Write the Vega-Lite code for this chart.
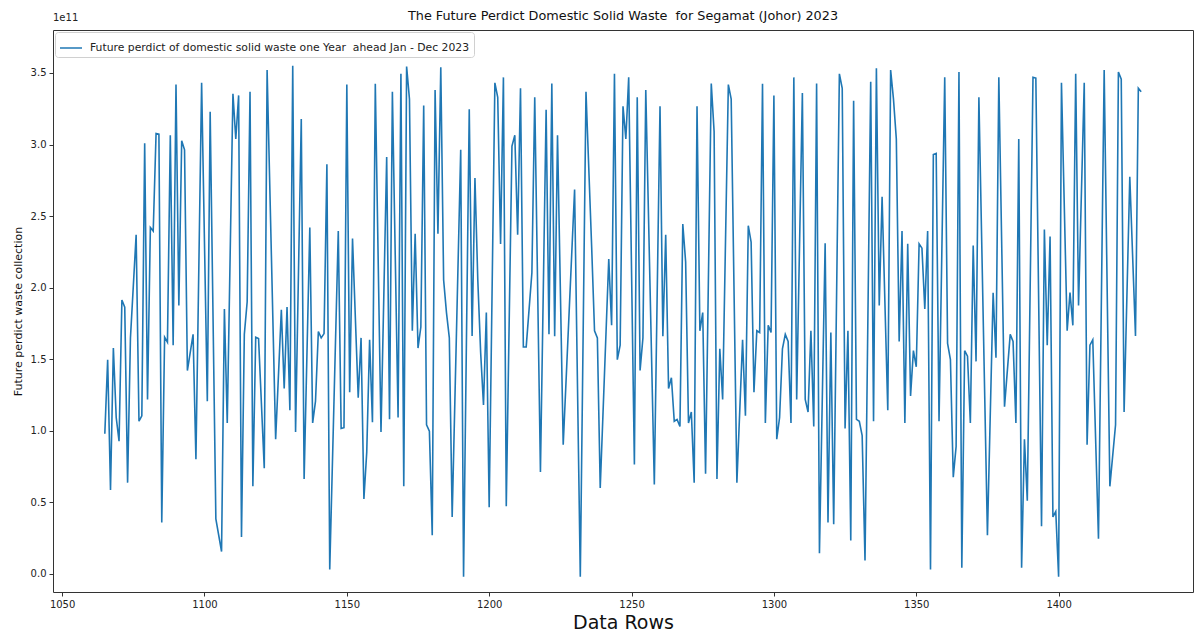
{
"$schema": "https://vega.github.io/schema/vega-lite/v6.json",
"width": 1140, "height": 562,
"autosize": {"type": "none"},
"padding": {"left": 53, "top": 30, "right": 2, "bottom": 40},
"background": "white",
"title": {"text": "The Future Perdict Domestic Solid Waste \u00a0for Segamat (Johor) 2023", "fontSize": 12.8, "font": "DejaVu Sans", "fontWeight": "normal", "color": "#111", "offset": -10, "anchor": "middle"},
"config": {"view": {"stroke": "#333", "strokeWidth": 1}, "font": "DejaVu Sans",
 "axis": {"grid": false, "domain": false, "tickColor": "#333", "tickSize": 4, "labelFontSize": 10, "labelColor": "#222", "labelFont": "DejaVu Sans", "titleFont": "DejaVu Sans", "titleFontWeight": "normal", "titleColor": "#111"}},
"data": {"values": [
{"row":1065,"waste":0.98e11},{"row":1066,"waste":1.497e11},{"row":1067,"waste":0.587e11},{"row":1068,"waste":1.578e11},{"row":1069,"waste":1.093e11},{"row":1070,"waste":0.928e11},{"row":1071,"waste":1.914e11},{"row":1072,"waste":1.864e11},{"row":1073,"waste":0.638e11},{"row":1074,"waste":1.649e11},{"row":1076,"waste":2.369e11},{"row":1077,"waste":1.067e11},{"row":1078,"waste":1.105e11},{"row":1079,"waste":3.009e11},{"row":1080,"waste":1.219e11},{"row":1081,"waste":2.42e11},{"row":1082,"waste":2.395e11},{"row":1083,"waste":3.077e11},{"row":1084,"waste":3.072e11},{"row":1085,"waste":0.36e11},{"row":1086,"waste":1.654e11},{"row":1087,"waste":1.619e11},{"row":1088,"waste":3.065e11},{"row":1089,"waste":1.598e11},{"row":1090,"waste":3.419e11},{"row":1091,"waste":1.876e11},{"row":1092,"waste":3.027e11},{"row":1093,"waste":2.963e11},{"row":1094,"waste":1.421e11},{"row":1096,"waste":1.674e11},{"row":1097,"waste":0.802e11},{"row":1099,"waste":3.431e11},
{"row":1101,"waste":1.207e11},{"row":1102,"waste":3.229e11},{"row":1104,"waste":0.385e11},{"row":1106,"waste":0.157e11},{"row":1107,"waste":1.851e11},{"row":1108,"waste":1.055e11},{"row":1110,"waste":3.355e11},{"row":1111,"waste":3.039e11},{"row":1112,"waste":3.343e11},{"row":1113,"waste":0.258e11},{"row":1114,"waste":1.674e11},{"row":1115,"waste":1.902e11},{"row":1116,"waste":3.368e11},{"row":1117,"waste":0.612e11},{"row":1118,"waste":1.654e11},{"row":1119,"waste":1.644e11},{"row":1121,"waste":0.739e11},{"row":1122,"waste":3.52e11},{"row":1125,"waste":0.941e11},{"row":1127,"waste":1.846e11},{"row":1128,"waste":1.295e11},{"row":1129,"waste":1.864e11},{"row":1130,"waste":1.143e11},{"row":1131,"waste":3.55e11},{"row":1132,"waste":0.992e11},{"row":1134,"waste":3.178e11},{"row":1135,"waste":0.663e11},
{"row":1137,"waste":2.42e11},{"row":1138,"waste":1.055e11},{"row":1139,"waste":1.207e11},{"row":1140,"waste":1.694e11},{"row":1141,"waste":1.649e11},{"row":1142,"waste":1.679e11},{"row":1143,"waste":2.862e11},{"row":1144,"waste":0.031e11},{"row":1147,"waste":2.395e11},{"row":1148,"waste":1.017e11},{"row":1149,"waste":1.022e11},{"row":1150,"waste":3.419e11},{"row":1151,"waste":1.27e11},{"row":1152,"waste":2.344e11},{"row":1154,"waste":1.232e11},{"row":1155,"waste":1.649e11},{"row":1156,"waste":0.524e11},{"row":1157,"waste":0.853e11},{"row":1158,"waste":1.636e11},{"row":1159,"waste":1.06e11},{"row":1160,"waste":3.424e11},{"row":1162,"waste":0.992e11},{"row":1164,"waste":2.913e11},{"row":1165,"waste":1.08e11},{"row":1166,"waste":3.368e11},{"row":1168,"waste":1.093e11},{"row":1169,"waste":3.494e11},{"row":1170,"waste":0.612e11},{"row":1171,"waste":3.545e11},{"row":1172,"waste":3.317e11},
{"row":1173,"waste":1.699e11},{"row":1174,"waste":2.377e11},{"row":1175,"waste":1.578e11},{"row":1176,"waste":1.725e11},{"row":1177,"waste":3.272e11},{"row":1178,"waste":1.042e11},{"row":1179,"waste":0.997e11},{"row":1180,"waste":0.271e11},{"row":1181,"waste":3.381e11},{"row":1182,"waste":2.377e11},{"row":1183,"waste":3.54e11},{"row":1184,"waste":2.053e11},{"row":1185,"waste":1.826e11},{"row":1186,"waste":1.649e11},{"row":1187,"waste":0.398e11},{"row":1190,"waste":2.963e11},{"row":1191,"waste":-0.02e11},{"row":1193,"waste":3.247e11},{"row":1194,"waste":1.662e11},{"row":1195,"waste":2.766e11},{"row":1196,"waste":2.053e11},{"row":1197,"waste":1.548e11},{"row":1198,"waste":1.181e11},{"row":1199,"waste":1.826e11},{"row":1200,"waste":0.466e11},{"row":1202,"waste":3.431e11},{"row":1203,"waste":3.33e11},{"row":1204,"waste":2.306e11},{"row":1205,"waste":3.469e11},{"row":1206,"waste":0.473e11},{"row":1208,"waste":2.989e11},{"row":1209,"waste":3.065e11},
{"row":1210,"waste":2.369e11},{"row":1211,"waste":3.393e11},{"row":1212,"waste":1.586e11},{"row":1213,"waste":1.586e11},{"row":1215,"waste":2.104e11},{"row":1216,"waste":3.33e11},{"row":1218,"waste":0.713e11},{"row":1220,"waste":3.242e11},{"row":1221,"waste":1.674e11},{"row":1222,"waste":3.426e11},{"row":1223,"waste":1.661e11},{"row":1224,"waste":3.065e11},{"row":1226,"waste":0.903e11},{"row":1230,"waste":2.685e11},{"row":1232,"waste":-0.02e11},{"row":1234,"waste":3.368e11},{"row":1236,"waste":2.281e11},{"row":1237,"waste":1.699e11},{"row":1238,"waste":1.649e11},{"row":1239,"waste":0.6e11},{"row":1242,"waste":2.2e11},{"row":1243,"waste":1.737e11},{"row":1244,"waste":3.494e11},{"row":1245,"waste":1.497e11},{"row":1246,"waste":1.598e11},
{"row":1247,"waste":3.267e11},{"row":1248,"waste":3.039e11},{"row":1249,"waste":3.469e11},{"row":1251,"waste":0.764e11},{"row":1252,"waste":3.33e11},{"row":1253,"waste":1.421e11},{"row":1254,"waste":1.649e11},{"row":1255,"waste":3.381e11},{"row":1258,"waste":0.625e11},{"row":1260,"waste":3.267e11},{"row":1261,"waste":1.661e11},{"row":1262,"waste":2.369e11},{"row":1263,"waste":1.295e11},{"row":1264,"waste":1.371e11},{"row":1265,"waste":1.067e11},{"row":1266,"waste":1.08e11},{"row":1267,"waste":1.03e11},{"row":1268,"waste":2.445e11},{"row":1269,"waste":2.18e11},{"row":1270,"waste":1.055e11},{"row":1271,"waste":1.131e11},{"row":1272,"waste":0.638e11},{"row":1273,"waste":3.267e11},{"row":1274,"waste":1.699e11},{"row":1275,"waste":1.826e11},{"row":1276,"waste":0.701e11},{"row":1278,"waste":3.426e11},{"row":1279,"waste":3.09e11},{"row":1280,"waste":0.663e11},{"row":1281,"waste":1.573e11},{"row":1282,"waste":1.219e11},
{"row":1284,"waste":3.419e11},{"row":1285,"waste":3.317e11},{"row":1287,"waste":0.638e11},{"row":1289,"waste":1.636e11},{"row":1290,"waste":1.105e11},{"row":1291,"waste":2.433e11},{"row":1292,"waste":2.319e11},{"row":1293,"waste":1.27e11},{"row":1294,"waste":1.699e11},{"row":1295,"waste":1.687e11},{"row":1296,"waste":3.424e11},{"row":1297,"waste":1.055e11},{"row":1298,"waste":1.737e11},{"row":1299,"waste":1.687e11},{"row":1300,"waste":3.343e11},{"row":1301,"waste":0.941e11},{"row":1302,"waste":1.093e11},{"row":1303,"waste":1.573e11},{"row":1304,"waste":1.674e11},{"row":1305,"waste":1.624e11},{"row":1306,"waste":1.055e11},{"row":1307,"waste":3.469e11},{"row":1308,"waste":1.219e11},{"row":1310,"waste":3.36e11},{"row":1311,"waste":1.219e11},{"row":1312,"waste":1.131e11},{"row":1313,"waste":1.699e11},{"row":1314,"waste":1.03e11},{"row":1315,"waste":3.426e11},{"row":1316,"waste":0.145e11},{"row":1318,"waste":2.311e11},{"row":1319,"waste":0.36e11},
{"row":1320,"waste":1.687e11},{"row":1321,"waste":0.347e11},{"row":1323,"waste":3.494e11},{"row":1324,"waste":3.393e11},{"row":1325,"waste":1.017e11},{"row":1326,"waste":1.699e11},{"row":1327,"waste":0.233e11},{"row":1328,"waste":3.305e11},{"row":1329,"waste":1.08e11},{"row":1330,"waste":1.067e11},{"row":1331,"waste":0.966e11},{"row":1332,"waste":0.094e11},{"row":1334,"waste":3.439e11},{"row":1335,"waste":1.067e11},{"row":1336,"waste":3.532e11},{"row":1337,"waste":1.876e11},{"row":1338,"waste":2.635e11},{"row":1340,"waste":1.143e11},{"row":1341,"waste":3.52e11},{"row":1342,"waste":3.317e11},{"row":1343,"waste":3.039e11},{"row":1344,"waste":1.624e11},{"row":1345,"waste":2.395e11},{"row":1346,"waste":1.055e11},{"row":1347,"waste":2.306e11},{"row":1348,"waste":1.244e11},{"row":1349,"waste":1.56e11},{"row":1350,"waste":1.447e11},{"row":1351,"waste":2.306e11},{"row":1352,"waste":2.276e11},{"row":1353,"waste":1.851e11},{"row":1354,"waste":2.395e11},{"row":1355,"waste":0.031e11},{"row":1356,"waste":2.93e11},
{"row":1357,"waste":2.938e11},{"row":1358,"waste":1.067e11},{"row":1360,"waste":3.469e11},{"row":1361,"waste":1.611e11},{"row":1362,"waste":1.497e11},{"row":1363,"waste":0.676e11},{"row":1364,"waste":0.891e11},{"row":1365,"waste":3.507e11},{"row":1366,"waste":0.044e11},{"row":1367,"waste":1.56e11},{"row":1368,"waste":1.522e11},{"row":1369,"waste":1.055e11},{"row":1370,"waste":2.294e11},{"row":1371,"waste":1.485e11},{"row":1372,"waste":3.33e11},{"row":1375,"waste":0.271e11},{"row":1377,"waste":1.965e11},{"row":1378,"waste":1.51e11},{"row":1379,"waste":3.469e11},{"row":1381,"waste":1.169e11},{"row":1383,"waste":1.674e11},{"row":1384,"waste":1.624e11},{"row":1385,"waste":1.055e11},{"row":1386,"waste":3.039e11},{"row":1387,"waste":0.044e11},{"row":1388,"waste":0.941e11},{"row":1389,"waste":0.511e11},{"row":1391,"waste":3.469e11},{"row":1392,"waste":3.464e11},
{"row":1394,"waste":0.334e11},{"row":1395,"waste":2.407e11},{"row":1396,"waste":1.598e11},{"row":1397,"waste":2.357e11},{"row":1398,"waste":0.398e11},{"row":1399,"waste":0.436e11},{"row":1400,"waste":-0.02e11},{"row":1401,"waste":3.431e11},{"row":1403,"waste":1.699e11},{"row":1404,"waste":1.965e11},{"row":1405,"waste":1.737e11},{"row":1406,"waste":3.494e11},{"row":1407,"waste":1.876e11},{"row":1409,"waste":3.431e11},{"row":1410,"waste":0.903e11},{"row":1411,"waste":1.598e11},{"row":1412,"waste":1.636e11},{"row":1414,"waste":0.246e11},{"row":1416,"waste":3.52e11},{"row":1418,"waste":0.612e11},{"row":1420,"waste":1.042e11},{"row":1421,"waste":3.507e11},{"row":1422,"waste":3.456e11},{"row":1423,"waste":1.131e11},{"row":1425,"waste":2.774e11},{"row":1427,"waste":1.662e11},{"row":1428,"waste":3.393e11},{"row":1429,"waste":3.368e11}
]},
"layer": [
 {"mark": {"type": "line", "strokeWidth": 1.6},
  "encoding": {
   "x": {"field": "row", "type": "quantitative", "scale": {"domain": [1046.8, 1447.2], "nice": false, "zero": false},
         "axis": {"values": [1050,1100,1150,1200,1250,1300,1350,1400], "format": "d", "title": "Data Rows", "titleFontSize": 19, "labelPadding": 3, "titlePadding": 4}},
   "y": {"field": "waste", "type": "quantitative", "scale": {"domain": [-1.26e10, 3.8e11], "nice": false, "zero": false},
         "axis": {"values": [0, 5e10, 1e11, 1.5e11, 2e11, 2.5e11, 3e11, 3.5e11], "labelExpr": "format(datum.value/1e11, '.1f')", "title": "Future perdict waste collection", "titleFontSize": 11, "titlePadding": 7, "labelPadding": 3}},
   "color": {"datum": "Future perdict of domestic solid waste one Year \u00a0ahead Jan - Dec 2023", "type": "nominal", "scale": {"range": ["#1f77b4"]},
     "legend": {"title": null, "orient": "top-left", "offset": 2, "padding": 4, "strokeColor": "#d0d0d0", "fillColor": "white", "cornerRadius": 3, "labelFontSize": 10.8, "labelFont": "DejaVu Sans", "labelColor": "#222", "symbolSize": 484, "symbolStrokeWidth": 1.5, "labelOffset": 7, "labelLimit": 700}}
  }},
 {"data": {"values": [{"t": "1e11"}]},
  "mark": {"type": "text", "align": "left", "baseline": "middle", "fontSize": 10, "font": "DejaVu Sans", "color": "#222"},
  "encoding": {"x": {"datum": 1046.8, "type": "quantitative"}, "y": {"datum": 3.884e11, "type": "quantitative"}, "text": {"field": "t"}}}
]
}
